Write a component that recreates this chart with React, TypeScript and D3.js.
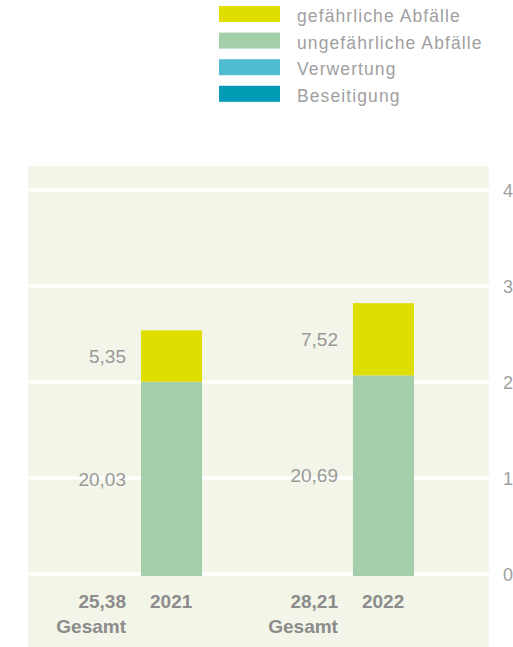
import React from "react";
import * as d3 from "d3";

const years = ["2021", "2022"];
const hazardous = [5.35, 7.52];
const nonHazardous = [20.03, 20.69];
const totals = ["25,38", "28,21"];
const yTicks = [0, 10, 20, 30, 40];
const legendItems = ["gefährliche Abfälle", "ungefährliche Abfälle", "Verwertung", "Beseitigung"];
const legendColors = ["#e0dd00", "#a3d0ab", "#4fbcd3", "#009bb4"];

const fmt = (v: number) => v.toFixed(2).replace(".", ",");

export default function App() {
  const W = 513, H = 647;
  const y = d3.scaleLinear().domain([0, 40]).range([574, 190]);
  const x = d3.scaleBand<string>().domain(years).range([141, 414]).paddingInner(0.712).paddingOuter(0);
  const bw = x.bandwidth();
  const stack = d3.stack<any>().keys(["non", "haz"])(
    years.map((yr, i) => ({ year: yr, non: nonHazardous[i], haz: hazardous[i] }))
  );
  const segColors = ["#a3d0ab", "#e0dd00"];
  const font = "'Liberation Sans', Arial, Helvetica, sans-serif";
  const base = 2;

  return (
    <svg width={W} height={H} style={{ position: "absolute", left: 0, top: 0 }} fontFamily={font}>
      <rect x={0} y={0} width={W} height={H} fill="#ffffff" />
      {legendItems.map((t, i) => (
        <g key={t}>
          <rect x={219} y={6 + i * 26.6} width={61} height={16} fill={legendColors[i]} />
          <text x={297} y={22 + i * 26.6} fontSize={17.5} fill="#a0a0a0" letterSpacing={1.1}>{t}</text>
        </g>
      ))}
      <rect x={28} y={166} width={461} height={H - 166} fill="#f2f5e7" />
      {yTicks.map((t) => (
        <g key={t}>
          <rect x={28} y={y(t) - 1.75} width={461} height={3.5} fill="#ffffff" />
          <text x={503} y={y(t) + 1} dy="0.35em" fontSize={18} fill="#a0a0a0">{t}</text>
        </g>
      ))}
      {stack.map((layer, li) =>
        layer.map((d, i) => {
          const y0 = y(d[0]) + (d[0] === 0 ? base : 0);
          const y1 = y(d[1]);
          return (
            <g key={`${li}-${i}`}>
              <rect x={x(years[i])} y={y1} width={bw} height={y0 - y1} fill={segColors[li]} />
              <text x={(x(years[i]) as number) - 15} y={(y0 + y1) / 2} dy="0.35em" textAnchor="end" fontSize={19} fill="#999999">
                {fmt(d[1] - d[0])}
              </text>
            </g>
          );
        })
      )}
      {years.map((yr, i) => (
        <g key={yr} fontWeight="bold" fill="#8c8c8c" fontSize={19}>
          <text x={(x(yr) as number) - 15} y={608} textAnchor="end">{totals[i]}</text>
          <text x={(x(yr) as number) + 9} y={608}>{yr}</text>
          <text x={(x(yr) as number) - 15} y={633} textAnchor="end">Gesamt</text>
        </g>
      ))}
    </svg>
  );
}
